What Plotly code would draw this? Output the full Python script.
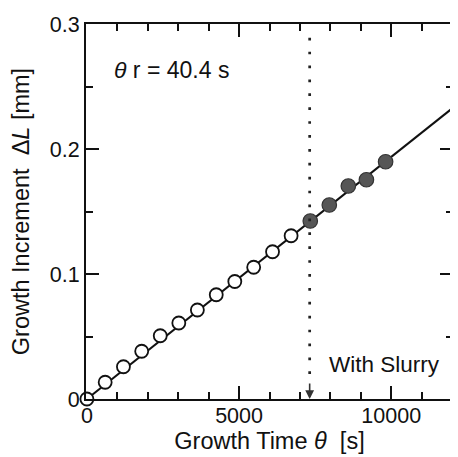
import plotly.graph_objects as go

# Data
open_time = [0, 600, 1200, 1800, 2410, 3020, 3630, 4250, 4860, 5480, 6100, 6710]
open_dl = [0.0, 0.0134, 0.0258, 0.0382, 0.0506, 0.0608, 0.0712, 0.0834, 0.0940, 0.1054, 0.1178, 0.1306]
slurry_time = [7340, 7965, 8590, 9185, 9815]
slurry_dl = [0.1424, 0.1552, 0.1704, 0.1754, 0.1898]
fit_time = [0, 12030]
fit_dl = [0.0, 0.2330]
slurry_start = 7320
dotted_top = 0.289

x_ticks = [0, 5000, 10000]
x_ticklabels = ["0", "5000", "10000"]
y_ticks = [0, 0.1, 0.2, 0.3]
y_ticklabels = ["0", "0.1", "0.2", "0.3"]

FONT = "Liberation Sans, Arial, sans-serif"

fig = go.Figure()
fig.add_trace(go.Scatter(x=fit_time, y=fit_dl, mode="lines",
                         line=dict(color="#111111", width=2), showlegend=False,
                         hoverinfo="skip"))
fig.add_trace(go.Scatter(x=open_time, y=open_dl, mode="markers",
                         marker=dict(symbol="circle", size=13, color="white",
                                     line=dict(color="#111111", width=1.8)),
                         showlegend=False, cliponaxis=False))
fig.add_trace(go.Scatter(x=slurry_time, y=slurry_dl, mode="markers",
                         marker=dict(symbol="circle", size=14.5, color="#565656",
                                     line=dict(color="#333333", width=1.2)),
                         showlegend=False))

# dotted vertical marker line
fig.add_shape(type="line", x0=slurry_start, x1=slurry_start, y0=dotted_top, y1=0.02,
              xref="x", yref="y", line=dict(color="#222222", width=2.7, dash="2.7px,11.2px"))
# arrow head at the bottom
fig.add_annotation(x=slurry_start, y=0, xref="x", yref="y", ax=0, ay=-17,
                   showarrow=True, arrowhead=2, arrowsize=1.1, arrowwidth=1.6,
                   arrowcolor="#333333", text="")

fig.add_annotation(text="<i>θ</i> r = 40.4 s", x=0.072, y=0.877, xref="paper", yref="paper",
                   xanchor="left", yanchor="middle", showarrow=False,
                   font=dict(family=FONT, size=23, color="#111111"))
fig.add_annotation(text="With Slurry", x=0.97, y=0.093, xref="paper", yref="paper",
                   xanchor="right", yanchor="middle", showarrow=False,
                   font=dict(family=FONT, size=22.5, color="#111111"))

axis_common = dict(showgrid=False, zeroline=False, showline=True, linecolor="#111111",
                   linewidth=2, mirror="ticks", ticks="inside", ticklen=13, tickwidth=1.8,
                   tickcolor="#111111",
                   tickfont=dict(family=FONT, size=21.5, color="#111111"))

fig.update_xaxes(range=[-30, 12030], tickmode="array", tickvals=x_ticks, ticktext=x_ticklabels,
                 ticklabelstandoff=-4,
                 minor=dict(dtick=1000, tick0=0, ticks="inside", ticklen=7, tickwidth=1.6,
                            tickcolor="#111111"),
                 title=dict(text="Growth Time <i>θ</i>\u00a0\u00a0[s]", standoff=3,
                            font=dict(family=FONT, size=23.5, color="#111111")),
                 **axis_common)
fig.update_yaxes(range=[0, 0.3], tickmode="array", tickvals=y_ticks, ticktext=y_ticklabels,
                 minor=dict(dtick=0.05, tick0=0, ticks="inside", ticklen=7, tickwidth=1.6,
                            tickcolor="#111111"),
                 title=dict(text="Growth Increment\u00a0\u00a0Δ<i>L</i> [mm]", standoff=22,
                            font=dict(family=FONT, size=23.5, color="#111111")),
                 **axis_common)

# page body has an 8px margin, so the figure is made 8px smaller and margins shifted
fig.update_layout(width=450, height=449, margin=dict(l=75, r=3, t=16, b=58),
                  plot_bgcolor="white", paper_bgcolor="white", showlegend=False)

fig.write_html("out.html")
